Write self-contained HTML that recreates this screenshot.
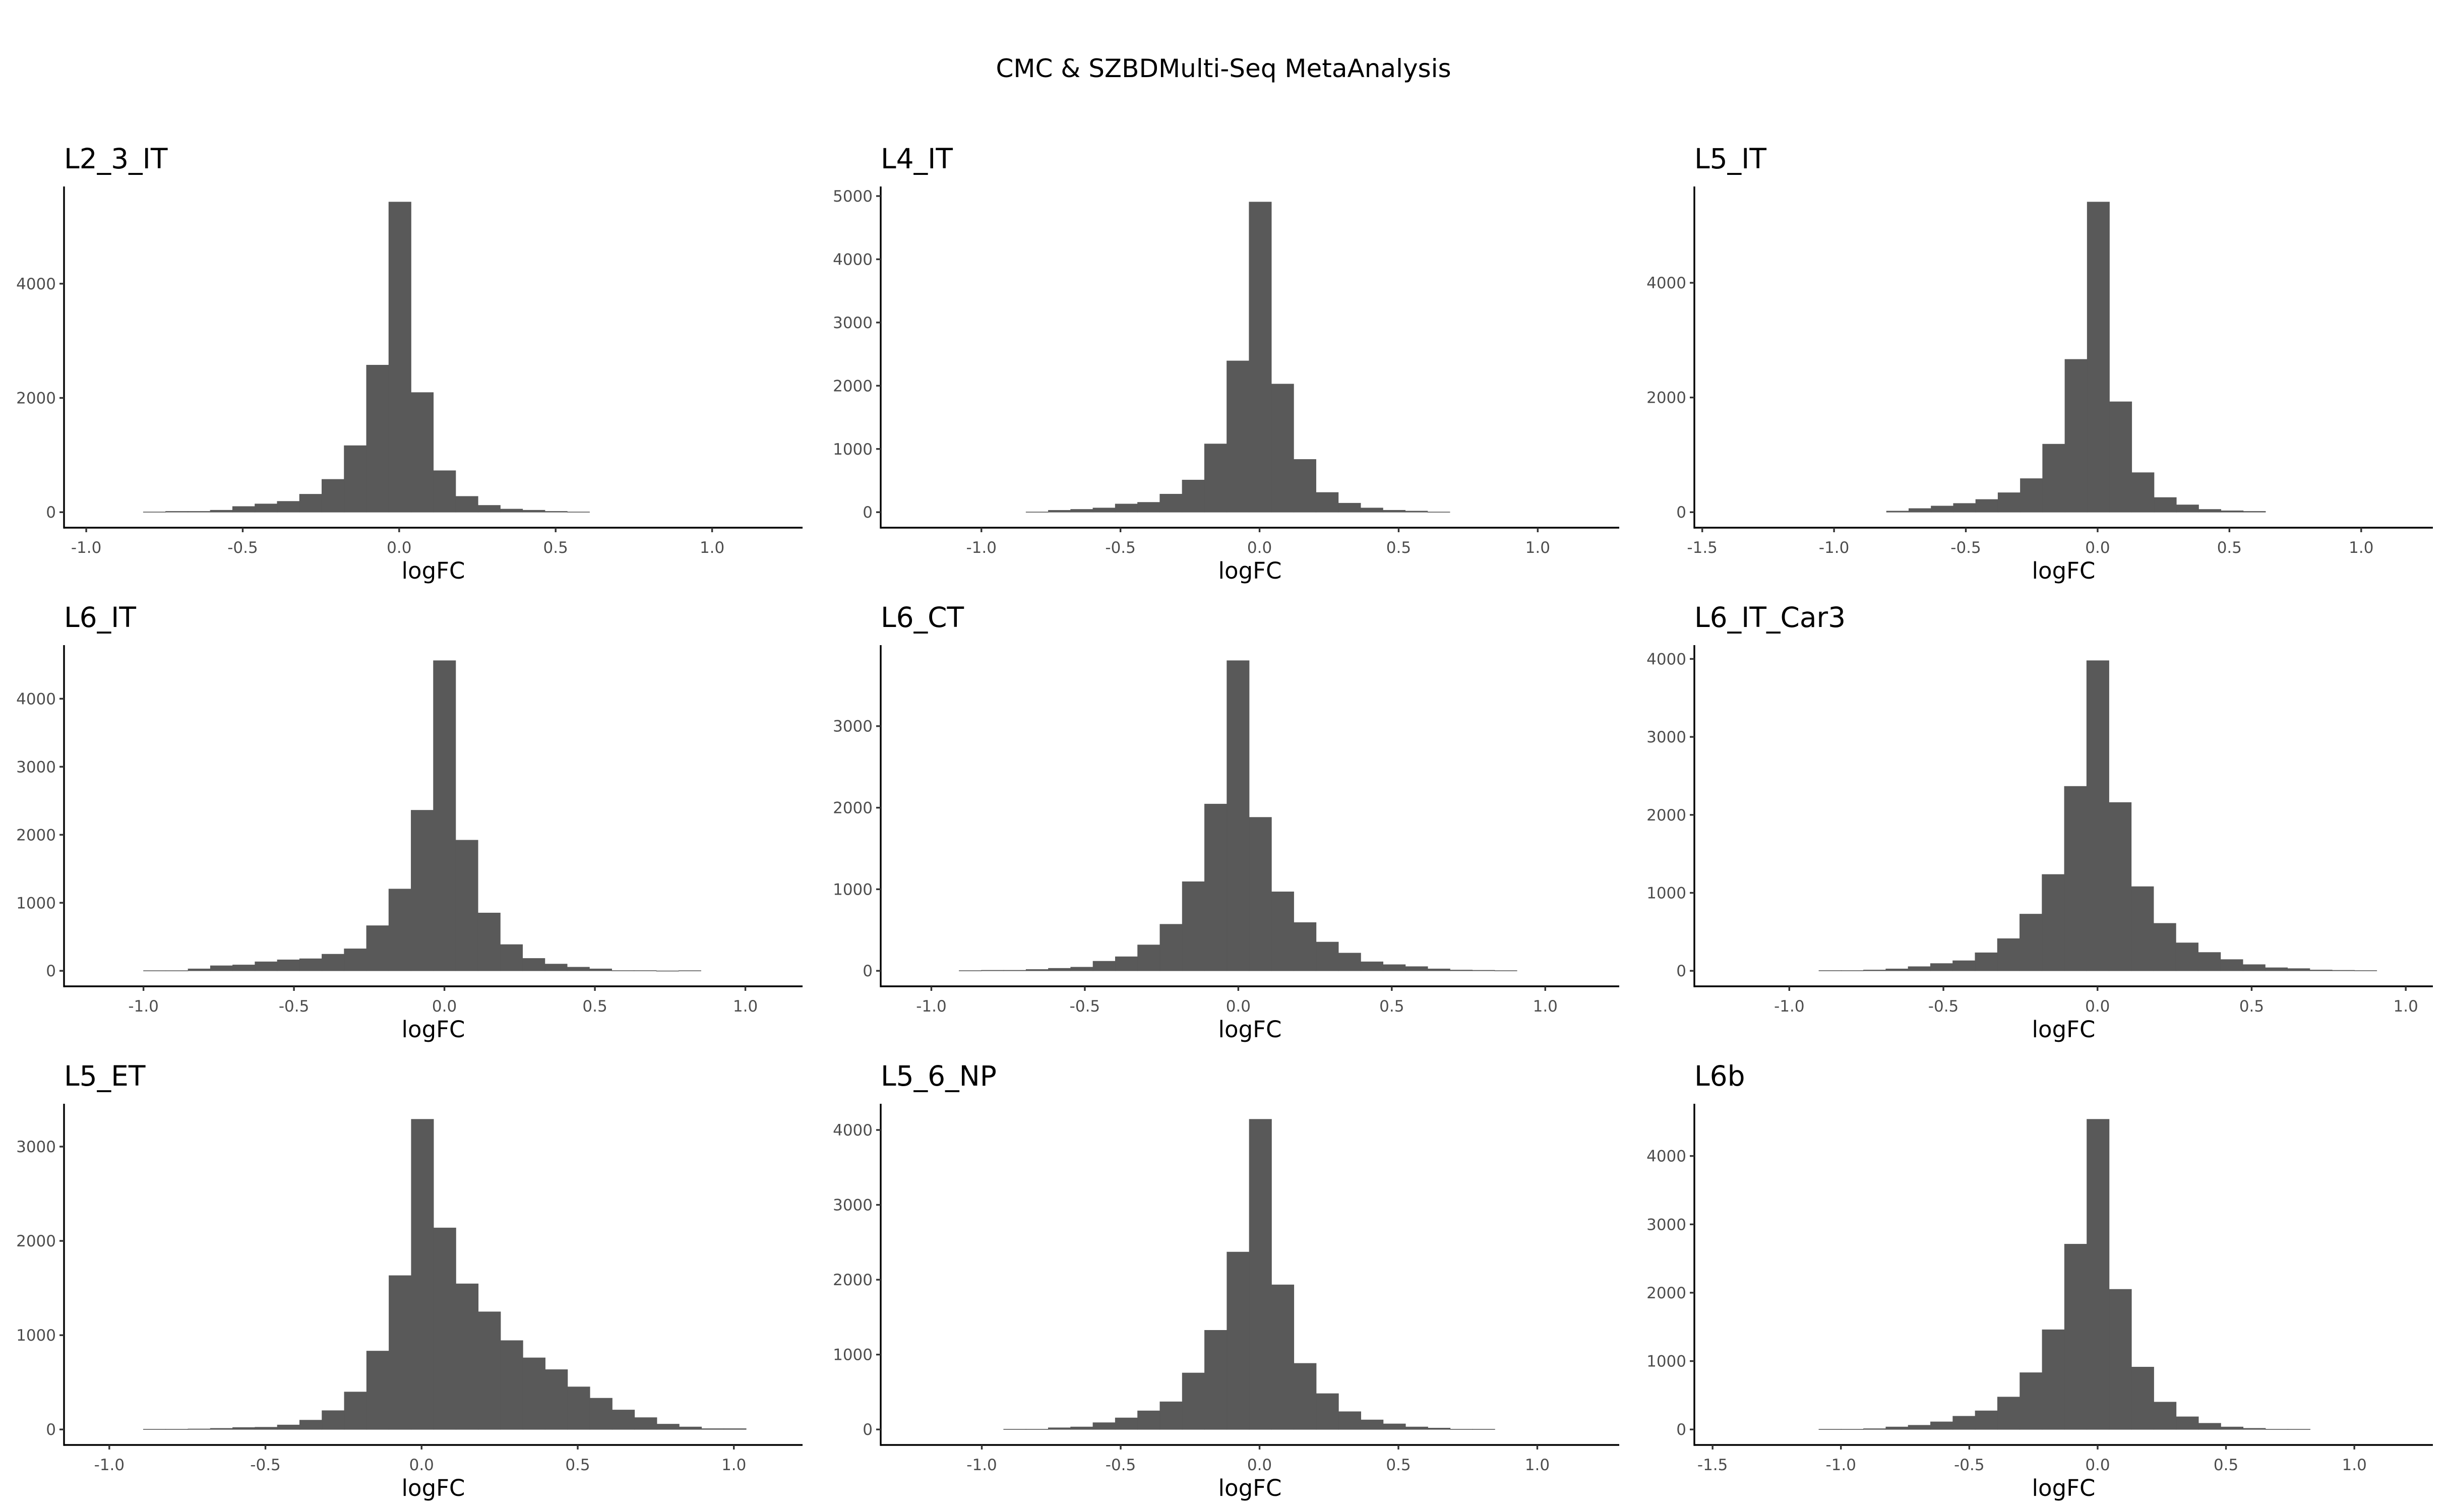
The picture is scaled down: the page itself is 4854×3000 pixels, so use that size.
<!DOCTYPE html>
<html>
<head>
<meta charset="utf-8">
<style>
  html,body{margin:0;padding:0;background:#fff;}
  svg{display:block;}
  text{font-family:"DejaVu Sans","Liberation Sans",sans-serif;}
</style>
</head>
<body>
<svg id="chart" xmlns="http://www.w3.org/2000/svg" width="4854" height="3000" viewBox="0 0 4854 3000">
  <rect x="0" y="0" width="4854" height="3000" fill="#ffffff"/>
  <text x="2427" y="153" text-anchor="middle" font-size="50" fill="#000">CMC &amp; SZBDMulti-Seq MetaAnalysis</text>
</svg>
<script>
// ---- data ----
const panelNames = ["L2_3_IT","L4_IT","L5_IT","L6_IT","L6_CT","L6_IT_Car3","L5_ET","L5_6_NP","L6b"];
const countsL2_3_IT = [5,15,15,35,100,145,190,315,575,1165,2575,5430,2095,727,277,120,55,35,15,5];
const countsL4_IT = [4,30,45,67,130,156,286,509,1080,2393,4906,2027,835,312,143,67,31,18,4];
const countsL5_IT = [20,64,108,153,222,340,586,1187,2665,5409,1926,690,256,128,49,25,15];
const countsL6_IT = [3,3,29,75,87,133,162,178,245,324,664,1203,2361,4560,1921,851,386,183,100,54,29,4,4,0,3];
const countsL6_CT = [3,7,7,17,31,45,118,173,318,571,1093,2045,3803,1882,969,592,353,218,111,76,52,24,10,7,3];
const countsL6_IT_Car3 = [4,4,11,25,54,94,130,232,413,728,1236,2366,3978,2159,1080,609,359,236,145,80,40,29,11,7,4];
const countsL5_ET = [3,3,6,12,21,24,48,99,200,398,832,1632,3290,2138,1545,1248,943,760,635,452,332,207,126,57,27,9,9];
const countsL5_6_NP = [4,4,23,34,91,155,249,370,755,1325,2370,4143,1932,883,479,238,128,75,34,19,4,4];
const countsL6b = [4,4,12,37,62,112,194,273,475,831,1459,2711,4537,2050,913,401,186,91,37,17,4,4];
const binStarts = [-0.8176,-0.8396,-0.801,-1.0,-0.9096,-0.904,-0.891,-0.9215,-1.086];
const binWidths = [0.0713,0.0802,0.0846,0.0741,0.0727,0.0724,0.0715,0.0804,0.0870];
const xDomainMin = [-1.071,-1.362,-1.530,-1.264,-1.165,-1.308,-1.145,-1.364,-1.571];
const xDomainMax = [1.289,1.293,1.272,1.190,1.241,1.088,1.220,1.295,1.306];
const xTicksA = [-1.0,-0.5,0.0,0.5,1.0];
const xTicksB = [-1.5,-1.0,-0.5,0.0,0.5,1.0];
const yTicks2000 = [0,2000,4000];
const yTicks1000_5 = [0,1000,2000,3000,4000,5000];
const yTicks1000_4 = [0,1000,2000,3000,4000];
const yTicks1000_3 = [0,1000,2000,3000];

const allCounts = [countsL2_3_IT,countsL4_IT,countsL5_IT,countsL6_IT,countsL6_CT,countsL6_IT_Car3,countsL5_ET,countsL5_6_NP,countsL6b];
const allXTicks = [xTicksA,xTicksA,xTicksB,xTicksA,xTicksA,xTicksA,xTicksA,xTicksA,xTicksB];
const allYTicks = [yTicks2000,yTicks1000_5,yTicks2000,yTicks1000_4,yTicks1000_3,yTicks1000_4,yTicks1000_3,yTicks1000_4,yTicks1000_4];

// ---- layout ----
const NS = "http://www.w3.org/2000/svg";
const svg = document.getElementById("chart");
const colX = [0,1620,3234];
const rowY = [280,1190,2100];

function mk(tag, attrs, parent){
  const e = document.createElementNS(NS, tag);
  for (const k in attrs) e.setAttribute(k, attrs[k]);
  parent.appendChild(e);
  return e;
}
function fmtX(v){ return v.toFixed(1); }

for (let p = 0; p < 9; p++) {
  const X0 = colX[p % 3], Y0 = rowY[Math.floor(p / 3)];
  const left = X0 + 127, right = X0 + 1592, top = Y0 + 90, bottom = Y0 + 767;
  const counts = allCounts[p];
  const maxC = Math.max(...counts);
  const yMin = -0.05 * maxC, yMax = 1.05 * maxC;
  const xMin = xDomainMin[p], xMax = xDomainMax[p];
  const sx = v => left + (v - xMin) / (xMax - xMin) * (right - left);
  const sy = v => bottom - (v - yMin) / (yMax - yMin) * (bottom - top);

  const g = mk("g", {}, svg);
  
  

  const title = mk("text", {x: left, y: Y0 + 54, "font-size": 55, fill: "#000"}, g);
  title.textContent = panelNames[p];
  
  

  // bars
  for (let i = 0; i < counts.length; i++) {
    const x0 = binStarts[p] + i * binWidths[p];
    const x1 = x0 + binWidths[p];
    const yTop = sy(counts[i]), yBase = sy(0);
    const r = mk("rect", {x: sx(x0), y: yTop, width: sx(x1) - sx(x0), height: Math.max(yBase - yTop, 0.8), fill: "#595959", stroke: "#595959", "stroke-width": 0.8}, g);
    
    
  }

  // axes lines
  const ax = mk("line", {x1: left, y1: bottom, x2: right, y2: bottom, stroke: "#000", "stroke-width": 3.4}, g);
  
  
  const ay = mk("line", {x1: left, y1: top, x2: left, y2: bottom + 1.7, stroke: "#000", "stroke-width": 3.4}, g);
  
  

  // x ticks
  for (const t of allXTicks[p]) {
    const x = sx(t);
    const tk = mk("line", {x1: x, y1: bottom, x2: x, y2: bottom + 9, stroke: "#333", "stroke-width": 3.4}, g);
    
    
    const lb = mk("text", {x: x, y: bottom + 50, "font-size": 31, fill: "#4d4d4d", "text-anchor": "middle"}, g);
    lb.textContent = fmtX(t);
    
    
  }
  // y ticks
  for (const t of allYTicks[p]) {
    const y = sy(t);
    const tk = mk("line", {x1: left - 9, y1: y, x2: left, y2: y, stroke: "#333", "stroke-width": 3.4}, g);
    
    
    const lb = mk("text", {x: left - 16, y: y + 11, "font-size": 31, fill: "#4d4d4d", "text-anchor": "end"}, g);
    lb.textContent = String(t);
    
    
  }
  // x axis title
  const xt = mk("text", {x: (left + right) / 2, y: Y0 + 868, "font-size": 45, fill: "#000", "text-anchor": "middle"}, g);
  xt.textContent = "logFC";
  
  
}
</script>
</body>
</html>
